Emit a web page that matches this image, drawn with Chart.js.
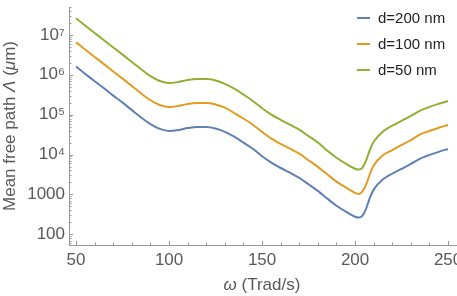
<!DOCTYPE html>
<html>
<head>
<meta charset="utf-8">
<script src="https://cdn.jsdelivr.net/npm/chart.js@4.4.1/dist/chart.umd.min.js"></script>
<style>
  html, body { margin: 0; padding: 0; background: #fff; }
  #wrap { width: 457px; height: 296px; }
</style>
</head>
<body>
<div id="wrap"><canvas id="mfp"></canvas></div>
<script>
// omega values (Trad/s)
var omega = [50, 55, 60, 65, 70, 75, 80, 85, 90, 95, 100, 105, 110, 115, 120, 125, 130, 135, 140, 145, 150,
  155, 160, 165, 170, 175, 180, 185, 190, 195, 200, 202, 204, 206, 208, 210, 215, 220, 225, 230, 235, 240, 245, 250];

// mean free path (um)
var d200 = [1.6e6, 1.05e6, 6.9e5, 4.6e5, 3.0e5, 2.0e5, 1.3e5, 8.5e4, 5.8e4, 4.4e4, 3.9e4, 4.1e4, 4.6e4, 4.9e4, 4.9e4, 4.5e4, 3.7e4, 2.8e4, 2.0e4, 1.4e4, 9.1e3,
  6.3e3, 4.6e3, 3.5e3, 2.6e3, 1.8e3, 1230, 790, 520, 370, 275, 263, 295, 450, 830, 1320, 2400, 3300, 4400, 5800, 7900, 9800, 11700, 13800];
var d100 = [6.5e6, 4.25e6, 2.8e6, 1.85e6, 1.21e6, 8.0e5, 5.25e5, 3.4e5, 2.3e5, 1.75e5, 1.55e5, 1.65e5, 1.85e5, 1.95e5, 1.95e5, 1.8e5, 1.5e5, 1.1e5, 8.0e4, 5.6e4, 3.7e4,
  2.5e4, 1.85e4, 1.4e4, 1.05e4, 7200, 4900, 3200, 2100, 1500, 1100, 1020, 1200, 1800, 3300, 5300, 9600, 13000, 17500, 23000, 32000, 39000, 47000, 55000];
var d50 = [2.6e7, 1.7e7, 1.12e7, 7.35e6, 4.85e6, 3.2e6, 2.1e6, 1.37e6, 9.2e5, 7.0e5, 6.2e5, 6.6e5, 7.4e5, 7.8e5, 7.8e5, 7.2e5, 5.9e5, 4.5e5, 3.2e5, 2.2e5, 1.45e5,
  1.0e5, 7.4e4, 5.6e4, 4.2e4, 2.9e4, 2.0e4, 12600, 8300, 5900, 4400, 4200, 4700, 7200, 13300, 21000, 38000, 53000, 70000, 93000, 126000, 157000, 187000, 220000];

var seriesNames = ['d=200 nm', 'd=100 nm', 'd=50 nm'];
var seriesColors = ['#5E81B5', '#E19C24', '#8FB032'];

var xTicks = [50, 100, 150, 200, 250];
var yTicks = [100, 1000, 1e4, 1e5, 1e6, 1e7];
var yTickLabels = ['100', '1000', '10\u2074', '10\u2075', '10\u2076', '10\u2077'];

var fontFam = '"Liberation Sans", Arial, sans-serif';
var grey = '#595959';

function pts(ys) {
  return omega.map(function (w, i) { return { x: w, y: ys[i] }; });
}

// inward tick marks, legend and axis titles
var decor = {
  id: 'decor',
  afterDraw: function (chart) {
    var c = chart.ctx, a = chart.chartArea;
    var xs = chart.scales.x, ys = chart.scales.y;
    c.save();
    c.strokeStyle = '#999';
    c.lineWidth = 1;
    c.beginPath();
    for (var v = 50; v <= 250; v += 10) {
      var px = Math.round(xs.getPixelForValue(v)) + 0.5;
      var len = (v % 50 === 0) ? 4 : 2.5;
      c.moveTo(px, a.bottom);
      c.lineTo(px, a.bottom - len);
    }
    for (var e = 1; e <= 7; e++) {
      for (var m = 1; m <= 9; m++) {
        var val = m * Math.pow(10, e);
        if (val < ys.min || val > ys.max) continue;
        var py = Math.round(ys.getPixelForValue(val)) + 0.5;
        var l2 = (m === 1) ? 4 : 2.5;
        c.moveTo(a.left, py);
        c.lineTo(a.left + l2, py);
      }
    }
    c.stroke();

    // legend
    c.font = '15px ' + fontFam;
    c.textBaseline = 'middle';
    c.textAlign = 'left';
    chart.data.datasets.forEach(function (ds, i) {
      var y = 18 + i * 26;
      c.strokeStyle = ds.borderColor;
      c.lineWidth = 2;
      c.beginPath();
      c.moveTo(357, y);
      c.lineTo(370, y);
      c.stroke();
      c.fillStyle = '#222';
      c.fillText(ds.label, 378, y + 1);
    });

    // x title
    c.fillStyle = grey;
    c.textBaseline = 'alphabetic';
    var parts = [['italic 17px ' + fontFam, '\u03c9'], ['17px ' + fontFam, ' (Trad/s)']];
    drawParts(c, parts, 262, 290);

    // y title
    c.translate(15, (a.top + a.bottom) / 2);
    c.rotate(-Math.PI / 2);
    parts = [['17px ' + fontFam, 'Mean free path '], ['italic 17px ' + fontFam, '\u039b'],
      ['17px ' + fontFam, ' ('], ['italic 17px ' + fontFam, '\u03bc'], ['17px ' + fontFam, 'm)']];
    drawParts(c, parts, 0, 0);
    c.restore();
  }
};

function drawParts(c, parts, cx, y) {
  var w = 0;
  parts.forEach(function (p) { c.font = p[0]; w += c.measureText(p[1]).width; });
  var x = cx - w / 2;
  c.textAlign = 'left';
  parts.forEach(function (p) {
    c.font = p[0];
    c.fillText(p[1], x, y);
    x += c.measureText(p[1]).width;
  });
}

var ctx = document.getElementById('mfp').getContext('2d');
var mfpChart = new Chart(ctx, {
  type: 'line',
  data: {
    datasets: [
      { label: seriesNames[0], data: pts(d200), borderColor: seriesColors[0] },
      { label: seriesNames[1], data: pts(d100), borderColor: seriesColors[1] },
      { label: seriesNames[2], data: pts(d50), borderColor: seriesColors[2] }
    ]
  },
  options: {
    responsive: true,
    maintainAspectRatio: false,
    animation: false,
    events: [],
    layout: { autoPadding: false, padding: { top: 7, right: 0, left: 0, bottom: 0 } },
    elements: {
      point: { radius: 0 },
      line: { borderWidth: 2, cubicInterpolationMode: 'monotone', fill: false }
    },
    plugins: { legend: { display: false }, tooltip: { enabled: false } },
    scales: {
      x: {
        type: 'linear',
        min: 46.2,
        max: 254.8,
        afterBuildTicks: function (s) { s.ticks = xTicks.map(function (v) { return { value: v }; }); },
        afterFit: function (s) { s.height = 51; s.paddingLeft = 0; s.paddingRight = 0; },
        grid: { display: false, drawTicks: false },
        border: { display: true, color: '#999', width: 1 },
        ticks: { color: grey, font: { size: 17, family: fontFam }, padding: 5, maxRotation: 0 }
      },
      y: {
        type: 'logarithmic',
        min: 54,
        max: 5.0e7,
        afterBuildTicks: function (s) { s.ticks = yTicks.map(function (v) { return { value: v }; }); },
        afterFit: function (s) { s.width = 69; s.paddingTop = 0; s.paddingBottom = 0; },
        grid: { display: false, drawTicks: false },
        border: { display: true, color: '#999', width: 1 },
        ticks: {
          color: grey,
          font: { size: 17, family: fontFam },
          padding: 4,
          callback: function (v) {
            var i = yTicks.indexOf(v);
            return i >= 0 ? yTickLabels[i] : '';
          }
        }
      }
    }
  },
  plugins: [decor]
});
</script>
</body>
</html>
